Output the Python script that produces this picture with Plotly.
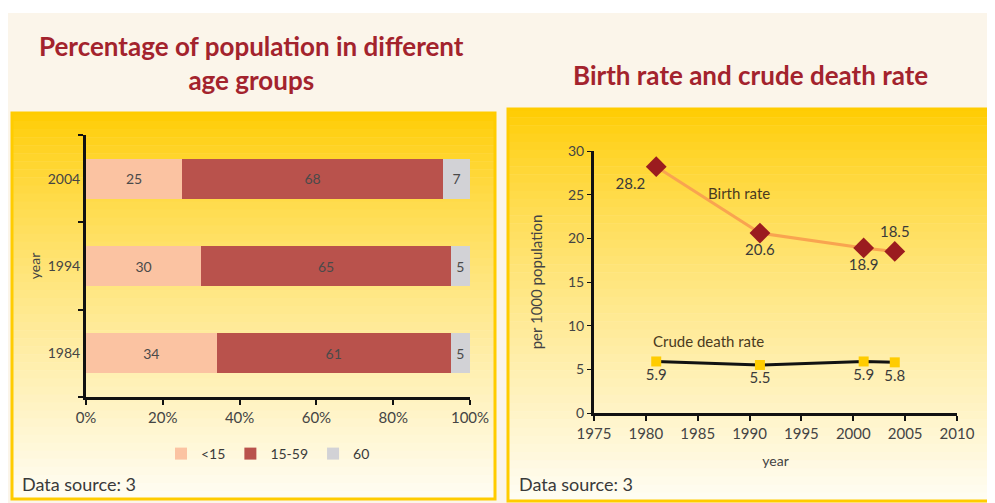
import plotly.graph_objects as go

# ---- data: left chart (percentage of population by age group) ----
years_cat = ["1984", "1994", "2004"]
age_lt15 = [34, 30, 25]
age_15_59 = [61, 65, 68]
age_60 = [5, 5, 7]
age_groups = ["<15", "15-59", "60"]
pct_ticks = [0, 20, 40, 60, 80, 100]
pct_labels = ["0%", "20%", "40%", "60%", "80%", "100%"]

# ---- data: right chart (birth / crude death rate) ----
rate_years = [1981, 1991, 2001, 2004]
birth_rate = [28.2, 20.6, 18.9, 18.5]
death_rate = [5.9, 5.5, 5.9, 5.8]
year_ticks = [1975, 1980, 1985, 1990, 1995, 2000, 2005, 2010]
rate_ticks = [0, 5, 10, 15, 20, 25, 30]

OFF = 8  # page body margin
W, H = 995 - OFF, 503 - OFF
FONT = "Lato"
TITLE_RED = "#a3232d"
TXT = "#3a3a3a"


def px(x):
    return (x - OFF) / W


def py(y):
    return 1 - (y - OFF) / H


fig = go.Figure()

bar_colors = ["#fbc3a2", "#b9524c", "#d2d2d6"]
for name, vals, col in zip(age_groups, [age_lt15, age_15_59, age_60], bar_colors):
    fig.add_trace(go.Bar(
        y=years_cat, x=vals, name=name, orientation="h",
        marker=dict(color=col, line=dict(width=0)),
        text=[str(v) for v in vals], textposition="inside",
        insidetextanchor="middle",
        textfont=dict(family=FONT, size=14, color="#4a4a4a"),
        xaxis="x", yaxis="y", width=0.46,
    ))

fig.add_trace(go.Scatter(
    x=rate_years, y=birth_rate, mode="lines+markers+text",
    line=dict(color="#f9a450", width=3),
    marker=dict(symbol="diamond", size=16, color="#9b1c1f"),
    text=[str(v) for v in birth_rate],
    textposition=["bottom left", "bottom center", "bottom center", "top center"],
    textfont=dict(family=FONT, size=15, color=TXT),
    xaxis="x2", yaxis="y2", showlegend=False, cliponaxis=False,
))
fig.add_trace(go.Scatter(
    x=rate_years, y=death_rate, mode="lines+markers+text",
    line=dict(color="#111111", width=3),
    marker=dict(symbol="square", size=10, color="#ffcc00"),
    text=[str(v) for v in death_rate],
    textposition="bottom center",
    textfont=dict(family=FONT, size=15, color=TXT),
    xaxis="x2", yaxis="y2", showlegend=False, cliponaxis=False,
))

shapes = []
# white strip at top
shapes.append(dict(type="rect", xref="paper", yref="paper", x0=0, x1=1,
                   y0=py(13), y1=1, fillcolor="white", line_width=0, layer="below"))


def gradient_panel(x0, x1, y0, y1, n=48):
    top = (255, 204, 0)
    bot = (255, 253, 244)
    h = (y1 - y0) / n
    for i in range(n):
        t = (i + 0.5) / n
        t2 = t ** 0.8
        c = tuple(int(round(top[k] + (bot[k] - top[k]) * t2)) for k in range(3))
        shapes.append(dict(type="rect", xref="paper", yref="paper",
                           x0=px(x0), x1=px(x1), y0=py(y0 + (i + 1) * h + 0.5),
                           y1=py(y0 + i * h),
                           fillcolor="rgb(%d,%d,%d)" % c, line_width=0, layer="below"))
    shapes.append(dict(type="rect", xref="paper", yref="paper",
                       x0=px(x0), x1=px(x1), y0=py(y1), y1=py(y0),
                       line=dict(color="#ffcc00", width=3), layer="below"))


gradient_panel(12, 495, 113, 499)
gradient_panel(508, 990, 109, 501)
fig.update_layout(shapes=shapes)

annotations = [
    dict(text="<b>Percentage of population in different<br>age groups</b>",
         x=px(251), y=py(63), xref="paper", yref="paper", showarrow=False,
         xanchor="center", yanchor="middle",
         font=dict(family=FONT, size=26, color=TITLE_RED), align="center"),
    dict(text="<b>Birth rate and crude death rate</b>",
         x=px(750), y=py(75), xref="paper", yref="paper", showarrow=False,
         xanchor="center", yanchor="middle",
         font=dict(family=FONT, size=26, color=TITLE_RED)),
    dict(text="Data source: 3", x=px(20), y=py(484), xref="paper", yref="paper",
         xanchor="left", yanchor="middle", showarrow=False,
         font=dict(family=FONT, size=18, color=TXT)),
    dict(text="Data source: 3", x=px(517), y=py(484), xref="paper", yref="paper",
         xanchor="left", yanchor="middle", showarrow=False,
         font=dict(family=FONT, size=18, color=TXT)),
    dict(text="Birth rate", x=1989, y=25.2, xref="x2", yref="y2", showarrow=False,
         font=dict(family=FONT, size=15, color="#4a3a20")),
    dict(text="Crude death rate", x=1986.0, y=8.2, xref="x2", yref="y2", showarrow=False,
         font=dict(family=FONT, size=15, color="#4a3a20")),
]

fig.update_layout(
    width=W, height=H,
    margin=dict(l=0, r=0, t=0, b=0, pad=0, autoexpand=False),
    paper_bgcolor="#fbf5ea", plot_bgcolor="rgba(0,0,0,0)",
    barmode="stack", bargap=0.54,
    font=dict(family=FONT, size=12, color=TXT),
    annotations=annotations,
    legend=dict(orientation="h", x=px(268), xanchor="center", y=py(454), yanchor="middle",
                bgcolor="rgba(0,0,0,0)", font=dict(family=FONT, size=14, color=TXT),
                itemwidth=30, traceorder="normal"),
    xaxis=dict(domain=[px(86), px(470)], range=[0, 100], tickvals=pct_ticks,
               ticktext=pct_labels, showgrid=False, zeroline=False,
               showline=True, linecolor="#111111", linewidth=3,
               ticks="outside", ticklen=5, tickwidth=2, tickcolor="#111111",
               tickfont=dict(family=FONT, size=15, color="#444444"),
               anchor="y", fixedrange=True),
    yaxis=dict(domain=[py(397), py(135)], type="category",
               categoryorder="array", categoryarray=years_cat,
               range=[-0.5, 2.5], showgrid=False, zeroline=False,
               showline=True, linecolor="#111111", linewidth=3,
               ticks="outside", tickson="boundaries", ticklen=5, tickwidth=2,
               tickcolor="#111111", tickfont=dict(family=FONT, size=14, color="#444444"),
               title=dict(text="year", font=dict(family=FONT, size=14, color="#444444"),
                          standoff=4),
               anchor="x", fixedrange=True),
    xaxis2=dict(domain=[px(594), px(957)], range=[1975, 2010], tickvals=year_ticks,
                showgrid=False, zeroline=False, showline=True, linecolor="#111111",
                linewidth=3, ticks="outside", ticklen=5, tickwidth=2, tickcolor="#111111",
                tickfont=dict(family=FONT, size=15, color="#444444"),
                title=dict(text="year", font=dict(family=FONT, size=14, color="#444444"),
                           standoff=16),
                anchor="y2", fixedrange=True),
    yaxis2=dict(domain=[py(413), py(151)], range=[0, 30], tickvals=rate_ticks,
                showgrid=False, zeroline=False, showline=True, linecolor="#111111",
                linewidth=3, ticks="outside", ticklen=4, tickwidth=1, tickcolor="#111111",
                tickfont=dict(family=FONT, size=14, color="#444444"),
                title=dict(text="per 1000 population",
                           font=dict(family=FONT, size=15, color="#444444"), standoff=22),
                anchor="x2", fixedrange=True),
)

fig.write_html("out.html")
